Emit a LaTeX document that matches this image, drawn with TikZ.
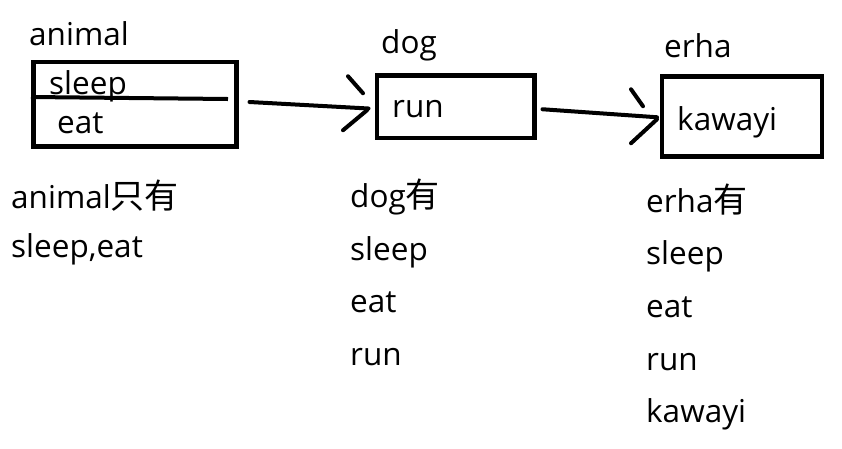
\documentclass[tikz,border=0pt]{standalone}
\usepackage{fontspec}
\setmainfont{Open Sans}
\newfontfamily\cjk[Scale=1.08]{Noto Sans CJK SC}
\usetikzlibrary{calc}
\begin{document}
\begin{tikzpicture}[x=1pt,y=-1pt,
  font=\fontsize{31.5}{36}\selectfont,
  txt/.style={anchor=base west,inner sep=0pt},
  box/.style={draw,line width=4.5pt,anchor=north west,inner sep=0pt},
  pen/.style={line width=4pt,line cap=round}]
\useasboundingbox[fill=white] (0,0) rectangle (842,448);
% boxes
\node[box,minimum width=203pt,minimum height=84.5pt] (animal) at (31,59.5) {};
\node[box,minimum width=157.5pt,minimum height=62.5pt] (dog) at (374.5,73) {};
\node[box,minimum width=160pt,minimum height=80pt] (erha) at (659.5,74) {};
% divider in animal box
\draw[line width=4pt] (animal.west |- 0,97) -- (228,99);
% titles
\node[txt] (tanimal) at (29,45) {animal};
\node[txt] (tdog) at (381,53) {dog};
\node[txt] (terha) at (664,57) {erha};
% box contents
\node[txt] (bsleep) at (49,94) {sleep};
\node[txt] (beat) at (57,133) {eat};
\node[txt] (brun) at (392,117) {run};
\node[txt] (bkawayi) at (677,130) {kawayi};
% arrow 1
\coordinate (s1) at ($(animal.east)+(11,-2)$);
\coordinate (t1) at ($(dog.west)+(-6,2)$);
\draw[pen] (s1) -- (t1);
\draw[pen] ($(t1)+(-20.5,-32.25)$) -- ($(t1)+(-5.5,-15.25)$);
\draw[pen] ($(t1)+(-25.5,21.75)$) -- ($(t1)+(-1.5,1.75)$);
% arrow 2
\coordinate (s2) at ($(dog.east)+(6,2.75)$);
\coordinate (t2) at ($(erha.west)+(-2.5,1)$);
\draw[pen] (s2) -- (t2);
\draw[pen] ($(t2)+(-26,-28)$) -- ($(t2)+(-14,-11)$);
\draw[pen] ($(t2)+(-26,26)$) -- ($(t2)+(0,2)$);
% lower texts
\node[txt] (la1) at (11,208) {animal{\cjk 只有}};
\node[txt] (la2) at (11,257) {sleep,eat};
\node[txt] (ld1) at (350,207) {dog{\cjk 有}};
\node[txt] (ld2) at (350,260) {sleep};
\node[txt] (ld3) at (350,312) {eat};
\node[txt] (ld4) at (350,365) {run};
\node[txt] (le1) at (646,212) {erha{\cjk 有}};
\node[txt] (le2) at (646,264) {sleep};
\node[txt] (le3) at (646,317) {eat};
\node[txt] (le4) at (646,370) {run};
\node[txt] (le5) at (646,422) {kawayi};
\end{tikzpicture}
\end{document}
